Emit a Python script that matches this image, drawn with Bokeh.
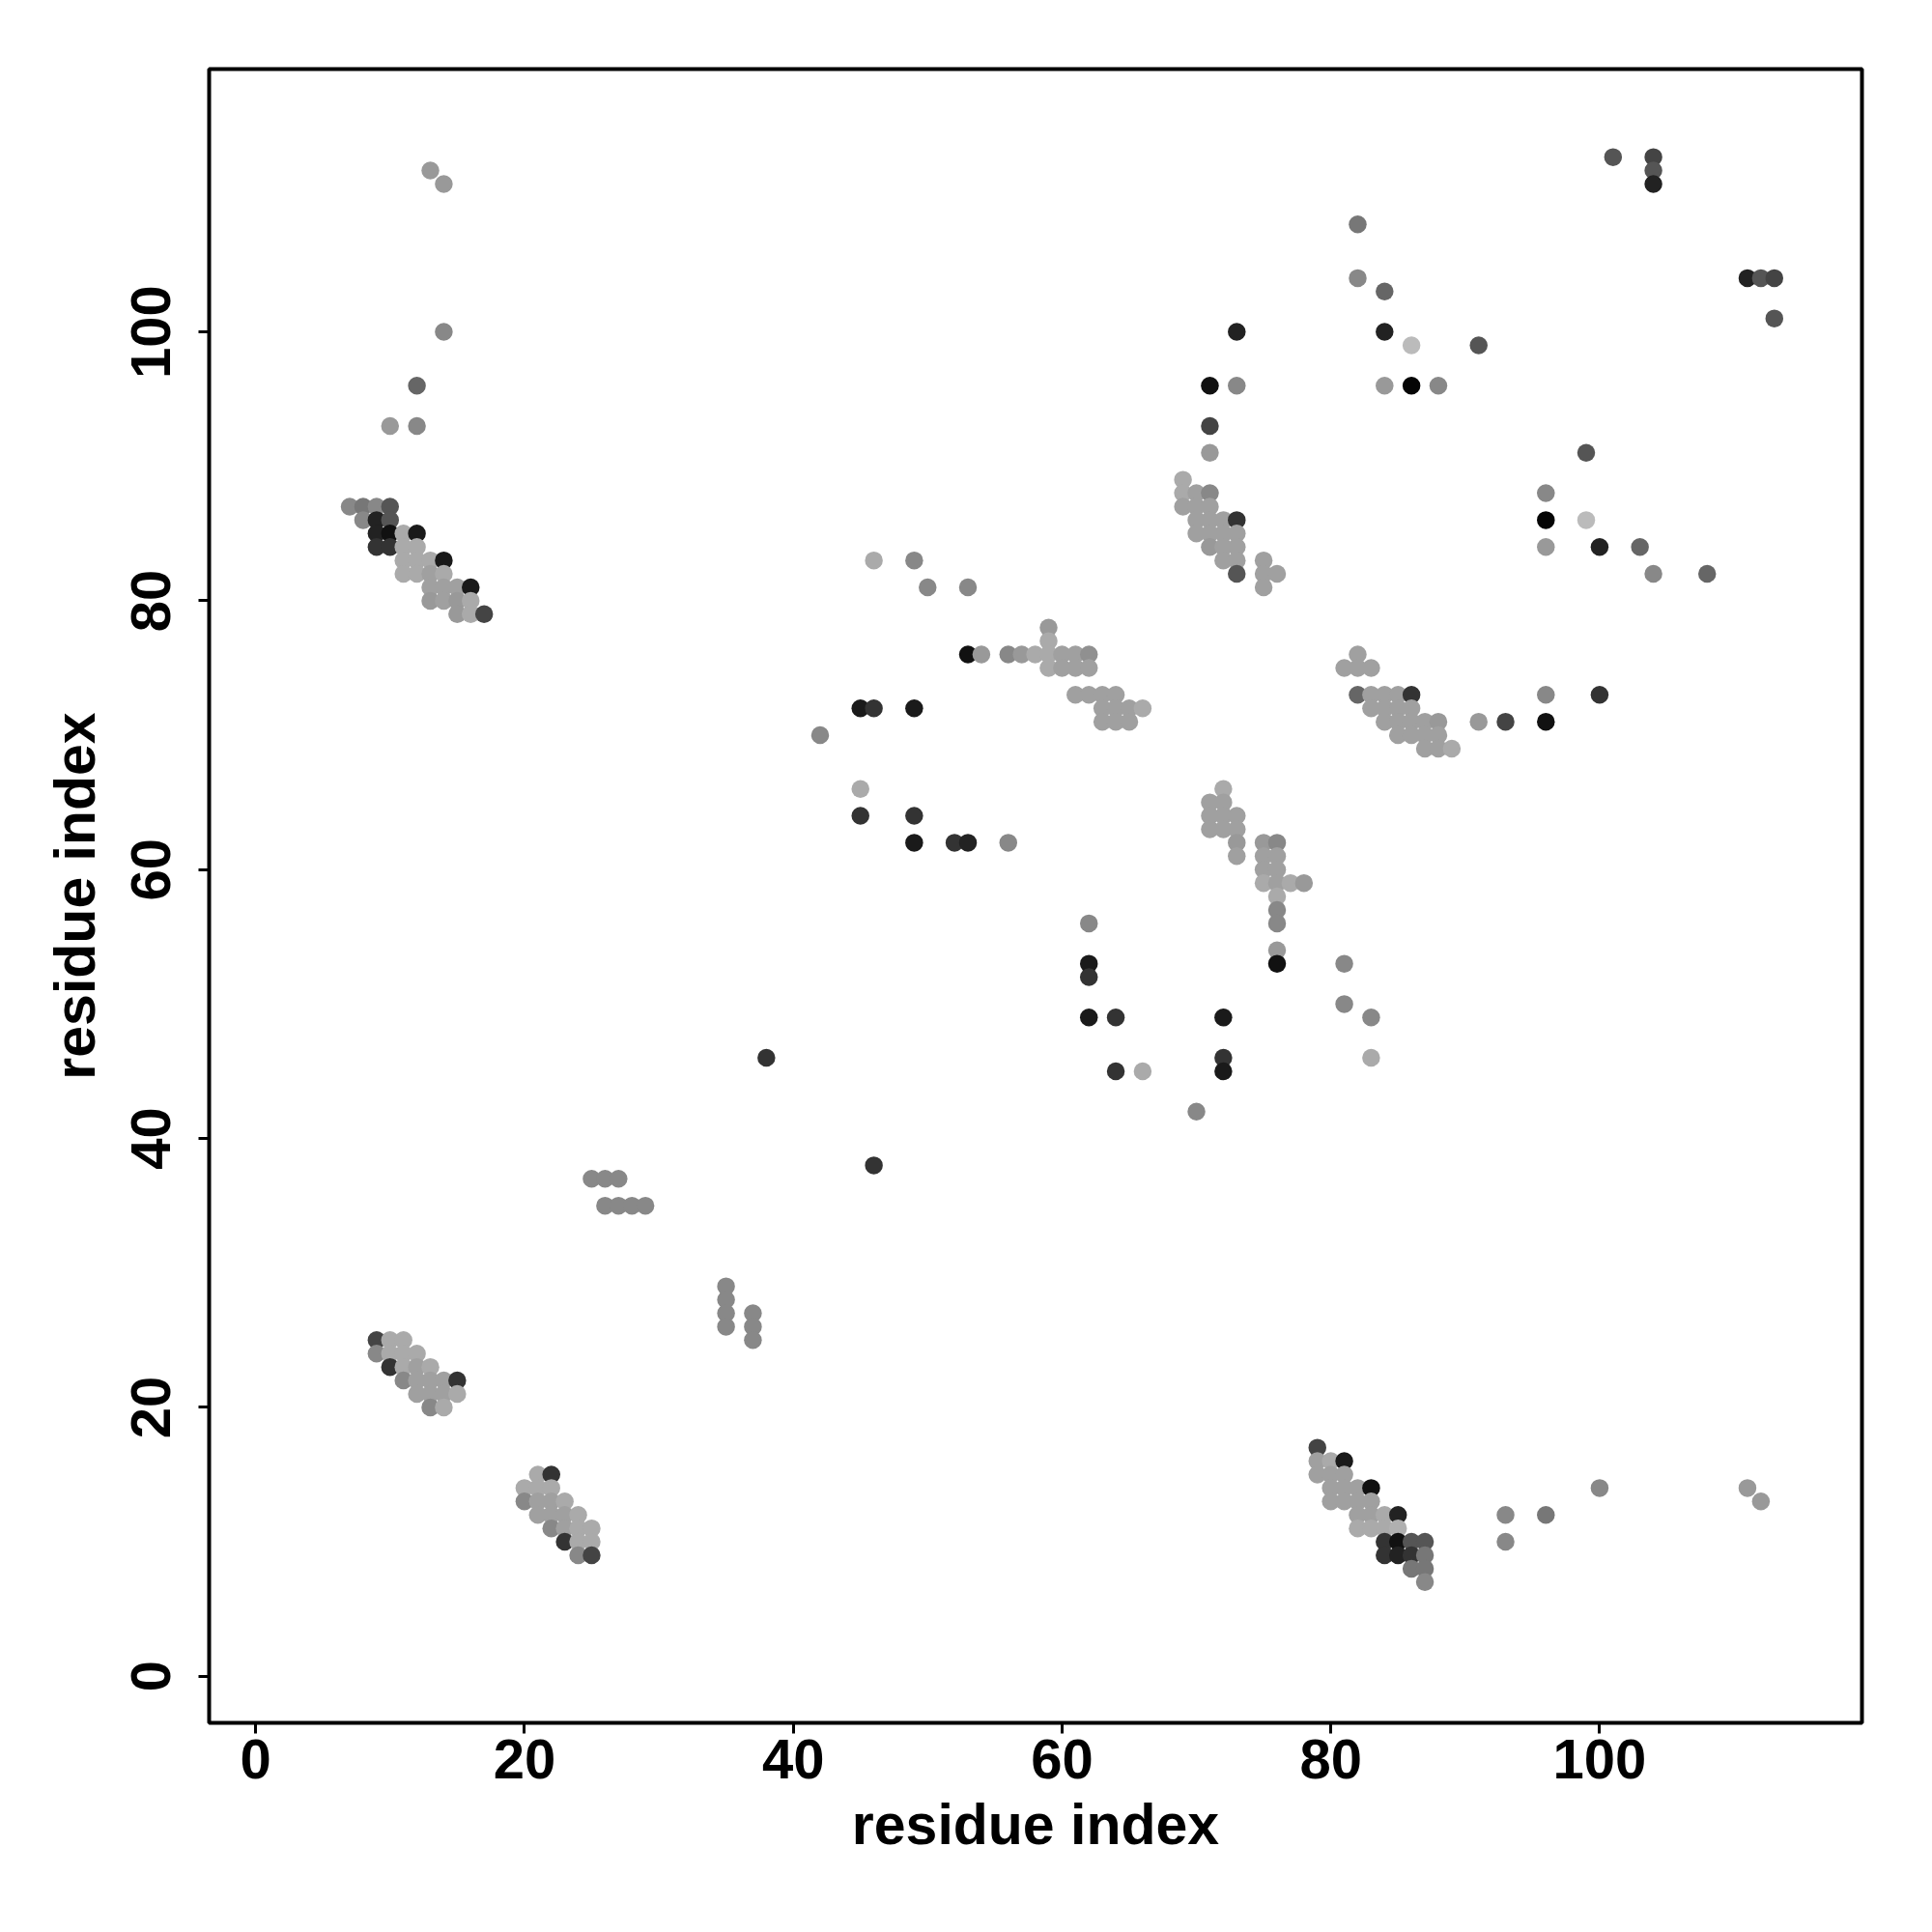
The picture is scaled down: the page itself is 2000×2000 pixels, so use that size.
from bokeh.plotting import figure
from bokeh.models import ColumnDataSource, Range1d, FixedTicker
from bokeh.embed import file_html
from bokeh.resources import INLINE

# contact pairs: residue i, residue j, and a grey level (0 = black, 255 = white)
res_i = [13, 14, 14, 12, 10, 12,
         7, 8, 9, 10, 8, 9, 10, 9, 10, 11, 12, 9, 10, 11, 12, 11, 12, 13, 14, 11, 12, 13, 14,
         13, 14, 15, 16, 13, 14, 15, 16, 15, 16, 17,
         9, 10, 11, 9, 10, 11, 12, 10, 11, 12, 13, 11, 12, 13, 14, 15, 12, 13, 14, 15, 13, 14,
         21, 22, 20, 21, 22, 20, 21, 22, 23, 21, 22, 23, 24, 22, 23, 24, 25, 23, 24, 25, 24, 25,
         25, 26, 27, 26, 27, 28, 29, 35, 35, 35, 35, 37, 37, 37, 38, 46,
         46, 49, 50, 53, 59, 59, 53, 54, 56, 57, 58, 59, 60, 61, 62, 59, 60, 61, 62,
         61, 62, 63, 64, 63, 64, 65, 66, 63, 64, 65, 45, 46, 49, 42, 45, 45, 49, 49, 52, 53, 56,
         62, 62, 62, 62, 64, 64, 66,
         73, 71, 73, 71, 71, 69, 69, 70, 71, 69, 70, 71, 70, 71, 72, 73, 70, 71, 72, 73,
         71, 72, 73, 72, 73, 75, 73, 75, 76, 75,
         72, 71, 72, 71, 72, 73, 71, 72, 73, 73, 73, 75, 76, 75, 76, 75, 76, 75, 76, 77, 78,
         76, 76, 76, 76, 76, 81, 81, 83, 83, 72, 72, 72, 70,
         82, 82, 84, 84, 86, 91, 84, 86, 88, 99, 96, 96, 99, 96, 100, 103, 104, 108,
         82, 81, 82, 83, 82, 83, 84, 85, 86, 83, 84, 85, 86, 84, 85, 86, 87, 88, 85, 86, 87, 88,
         87, 88, 89, 96, 100, 91, 93, 96,
         79, 79, 79, 80, 81, 80, 81, 80, 81, 82, 83, 80, 81, 82, 83, 82, 83, 84, 85, 82, 83, 84, 85,
         84, 85, 86, 87, 84, 85, 86, 87, 86, 87, 87, 93, 93, 96, 100, 111, 112,
         101, 104, 104, 104, 111, 112, 113, 113]
res_j = [112, 111, 100, 96, 93, 93,
         87, 87, 87, 87, 86, 86, 86, 85, 85, 85, 85, 84, 84, 84, 84, 83, 83, 83, 83, 82, 82, 82, 82,
         81, 81, 81, 81, 80, 80, 80, 80, 79, 79, 79,
         25, 25, 25, 24, 24, 24, 24, 23, 23, 23, 23, 22, 22, 22, 22, 22, 21, 21, 21, 21, 20, 20,
         15, 15, 14, 14, 14, 13, 13, 13, 13, 12, 12, 12, 12, 11, 11, 11, 11, 10, 10, 10, 9, 9,
         37, 37, 37, 35, 35, 35, 35, 29, 28, 27, 26, 27, 26, 25, 46, 38,
         83, 83, 81, 81, 78, 77, 76, 76, 76, 76, 76, 76, 76, 76, 76, 75, 75, 75, 75,
         73, 73, 73, 73, 72, 72, 72, 72, 71, 71, 71, 72, 72, 72, 70, 66, 64, 64, 62, 62, 62, 62,
         56, 53, 52, 49, 49, 45, 45,
         100, 96, 96, 93, 91, 89, 88, 88, 88, 87, 87, 87, 86, 86, 86, 86, 85, 85, 85, 85,
         84, 84, 84, 83, 83, 83, 82, 82, 82, 81,
         66, 65, 65, 64, 64, 64, 63, 63, 63, 62, 61, 62, 62, 61, 61, 60, 60, 59, 59, 59, 59,
         58, 57, 56, 54, 53, 53, 50, 49, 46, 49, 46, 45, 42,
         108, 104, 103, 100, 99, 99, 96, 96, 96, 91, 88, 86, 86, 84, 84, 84, 82, 82,
         76, 75, 75, 75, 73, 73, 73, 73, 73, 72, 72, 72, 72, 71, 71, 71, 71, 71, 70, 70, 70, 70,
         69, 69, 69, 73, 73, 71, 71, 71,
         17, 16, 15, 16, 16, 15, 15, 14, 14, 14, 14, 13, 13, 13, 13, 12, 12, 12, 12, 11, 11, 11, 11,
         10, 10, 10, 10, 9, 9, 9, 9, 8, 8, 7, 12, 10, 12, 14, 14, 13,
         113, 113, 112, 111, 104, 104, 104, 101]
grey = [0x99, 0x99, 0x88, 0x66, 0x99, 0x88,
        0x88, 0x77, 0x88, 0x55, 0x88, 0x22, 0x55, 0x22, 0x11, 0xaa, 0x1a, 0x33, 0x33, 0xaa, 0xaa, 0xaa, 0xaa, 0xaa, 0x1a, 0xaa, 0xaa, 0xa0, 0xaa,
        0xa0, 0xa0, 0xa0, 0x1a, 0x99, 0xa0, 0x99, 0xaa, 0x99, 0xaa, 0x44,
        0x44, 0xaa, 0xaa, 0x88, 0xaa, 0xaa, 0xaa, 0x33, 0xaa, 0xa0, 0xaa, 0x88, 0xa0, 0xa0, 0xa0, 0x33, 0xa0, 0xa0, 0xa0, 0xaa, 0x88, 0xaa,
        0xaa, 0x33, 0xaa, 0xaa, 0xaa, 0x88, 0xa0, 0xa0, 0xaa, 0xa0, 0xa0, 0xa0, 0xaa, 0x88, 0xa0, 0xaa, 0xaa, 0x33, 0xaa, 0xaa, 0x88, 0x44,
        0x88, 0x88, 0x88, 0x88, 0x88, 0x88, 0x88, 0x88, 0x88, 0x88, 0x88, 0x88, 0x88, 0x88, 0x33, 0x33,
        0xaa, 0x88, 0x88, 0x88, 0x99, 0xaa, 0x11, 0x99, 0x88, 0x99, 0xaa, 0xaa, 0xa0, 0xa0, 0x90, 0xaa, 0xa0, 0xa0, 0xa0,
        0xa0, 0xa0, 0xa0, 0xa0, 0xa0, 0xa0, 0xa0, 0xaa, 0xa0, 0xa0, 0xa0, 0x1a, 0x33, 0x1a, 0x88, 0xaa, 0x33, 0x33, 0x1a, 0x33, 0x22, 0x88,
        0x88, 0x1a, 0x33, 0x1a, 0x33, 0x33, 0xaa,
        0x22, 0x11, 0x88, 0x44, 0x99, 0xaa, 0xaa, 0xa0, 0x88, 0xa0, 0xa0, 0xa0, 0xa0, 0xa0, 0xa0, 0x33, 0xa0, 0xa0, 0xa0, 0xa0,
        0x99, 0xa0, 0xa0, 0xa0, 0xa0, 0xa0, 0x55, 0xa0, 0xa0, 0xa0,
        0xaa, 0xa0, 0xa0, 0xa0, 0xa0, 0xa0, 0xa0, 0xa0, 0xa0, 0x99, 0xa0, 0x99, 0x88, 0xa0, 0xa0, 0xa0, 0xa0, 0xaa, 0xa0, 0xaa, 0x99,
        0xaa, 0x88, 0x88, 0x99, 0x11, 0x88, 0x88, 0x88, 0xaa, 0x1a, 0x33, 0x1a, 0x88,
        0x77, 0x88, 0x66, 0x22, 0xbb, 0x55, 0x99, 0x05, 0x88, 0x55, 0x88, 0x05, 0xbb, 0x99, 0x22, 0x66, 0x88, 0x66,
        0xa0, 0xa0, 0xa0, 0xa0, 0x66, 0xa0, 0xa0, 0xa0, 0x33, 0xa0, 0xa0, 0xa0, 0xa0, 0xa0, 0xa0, 0xa0, 0xa0, 0x99, 0xa0, 0xa0, 0xa0, 0xa0,
        0xa0, 0xa0, 0xaa, 0x88, 0x33, 0x99, 0x44, 0x11,
        0x44, 0xa0, 0xa0, 0xaa, 0x1a, 0xa0, 0xa0, 0xa0, 0xa0, 0xa0, 0x11, 0xa0, 0xa0, 0xa0, 0xa0, 0xa0, 0xa0, 0xaa, 0x22, 0xaa, 0xaa, 0xaa, 0xb0,
        0x33, 0x11, 0x55, 0x55, 0x33, 0x22, 0x33, 0x77, 0x77, 0x77, 0x88, 0x88, 0x88, 0x77, 0x88, 0x99, 0x99,
        0x55, 0x44, 0x55, 0x22, 0x22, 0x55, 0x44, 0x55]

x_ticks = [0, 20, 40, 60, 80, 100]
y_ticks = [0, 20, 40, 60, 80, 100]
x_title = "residue index"
y_title = "residue index"

colors = ["#%02x%02x%02x" % (g, g, g) for g in grey]
src = ColumnDataSource(dict(x=res_i, y=res_j, c=colors))

FONT = "Liberation Sans"
p = figure(frame_width=1711, frame_height=1712,
           min_border_left=216, min_border_top=71,
           min_border_right=65, min_border_bottom=209,
           x_range=Range1d(-3.46, 119.52), y_range=Range1d(-3.47, 119.55),
           output_backend="svg", toolbar_location=None)
p.scatter("x", "y", source=src, size=18.5, fill_color="c", line_color=None, marker="circle")

p.xgrid.visible = False
p.ygrid.visible = False
p.outline_line_color = "black"
p.outline_line_width = 4
p.background_fill_color = "white"
p.border_fill_color = "white"

for ax, ticks, title in ((p.xaxis[0], x_ticks, x_title), (p.yaxis[0], y_ticks, y_title)):
    ax.ticker = FixedTicker(ticks=ticks)
    ax.minor_tick_line_color = None
    ax.axis_line_color = None
    ax.major_tick_in = 0
    ax.major_tick_out = 11
    ax.major_tick_line_width = 3
    ax.major_tick_line_color = "black"
    ax.major_label_text_font = FONT
    ax.major_label_text_font_style = "bold"
    ax.major_label_text_font_size = "58px"
    ax.major_label_text_color = "black"
    ax.axis_label = title
    ax.axis_label_text_font = FONT
    ax.axis_label_text_font_style = "bold"
    ax.axis_label_text_font_size = "59px"
    ax.axis_label_text_color = "black"

p.xaxis[0].major_label_standoff = 6
p.xaxis[0].axis_label_standoff = 12
p.yaxis[0].major_label_orientation = "parallel"
p.yaxis[0].major_label_standoff = 29
p.yaxis[0].axis_label_standoff = 23

open("out.html", "w").write(file_html(p, INLINE))
